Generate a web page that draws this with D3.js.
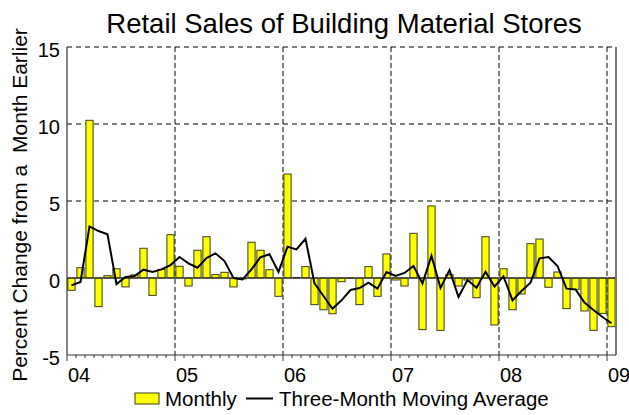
<!DOCTYPE html>
<html lang="en">
	<head>
		<meta charset="utf-8">
		<title>Retail Sales of Building Material Stores</title>
		<script type="text/javascript" src="https://cdn.jsdelivr.net/npm/d3@7"></script>
		<style type="text/css">
			body { margin: 0; background: #fff; }
			text { font-family: "Liberation Sans", Arial, sans-serif; fill: #000; }
		</style>
	</head>
	<body>
		<script type="text/javascript">

			//Data: monthly percent change, Jan 2004 to Jan 2009
			var startYear = 2004;
			var monthCount = 61;

			var monthly = [ -0.80, 0.67, 10.24, -1.86, 0.15, 0.60, -0.58, 0.20, 1.93, -1.13, 0.56, 2.81,
							0.76, -0.52, 1.80, 2.68, 0.22, 0.37, -0.58, -0.06, 2.32, 1.80, 0.54, -1.19,
							6.75, 0.03, 0.74, -1.73, -2.06, -2.32, -0.24, -0.02, -1.73, 0.74, -1.19, 1.56,
							-0.13, -0.52, 2.90, -3.35, 4.68, -3.40, 0.22, -0.52, -0.13, -1.28, 2.68, -3.05,
							0.60, -2.06, -1.04, 2.23, 2.53, -0.60, 0.39, -1.99, -0.74, -2.14, -3.40, -2.30,
							-3.16 ];

			var movingAverage = [ -0.48, -0.26, 3.35, 3.05, 2.84, -0.40, 0.06, 0.13, 0.54, 0.39, 0.56, 0.84,
							1.36, 0.95, 0.67, 1.30, 1.60, 1.10, 0.00, -0.09, 0.56, 1.35, 1.54, 0.39,
							2.03, 1.86, 2.55, -0.35, -1.17, -2.00, -1.45, -0.78, -0.65, -0.30, -0.69, 0.39,
							0.13, 0.33, 0.78, -0.35, 1.45, -0.65, 0.52, -1.23, -0.13, -0.63, 0.41, -0.56,
							0.10, -1.45, -0.84, -0.30, 1.28, 1.36, 0.78, -0.69, -0.74, -1.60, -2.08, -2.53,
							-2.94 ];

			var yearLabels = [ "04", "05", "06", "07", "08", "09" ];
			var yTicks = [ -5, 0, 5, 10, 15 ];

			//Months as categories
			var months = d3.range(monthCount).map(function(i) {
				return new Date(startYear, i, 1);
			});

			//Width, height and plot box
			var w = 629;
			var h = 415;
			var plotLeft = 67, plotRight = 616, plotTop = 47, plotBottom = 355;

			var xScale = d3.scaleBand()
							.domain(d3.range(monthCount))
							.range([plotLeft, plotRight])
							.paddingInner(0.2)
							.paddingOuter(0.1);

			var yScale = d3.scaleLinear()
							.domain([-5, 15])
							.range([plotBottom, plotTop]);

			//start of the 9px cell for month i
			var cellStart = function(i) {
				return xScale(i) - (xScale.step() - xScale.bandwidth()) / 2;
			};

			//Create SVG element
			var svg = d3.select("body")
						.append("svg")
						.attr("width", w)
						.attr("height", h);

			//Horizontal dashed gridlines
			svg.selectAll("line.hgrid")
			   .data(yTicks.filter(function(d) { return d > 0; }))
			   .enter()
			   .append("line")
			   .attr("class", "hgrid")
			   .attr("x1", plotLeft)
			   .attr("x2", plotRight)
			   .attr("y1", function(d) { return yScale(d); })
			   .attr("y2", function(d) { return yScale(d); })
			   .attr("stroke", "#000")
			   .attr("stroke-width", 1)
			   .attr("stroke-dasharray", "5,4");

			//Vertical dashed gridlines at each January
			var janIdx = d3.range(monthCount).filter(function(i) { return months[i].getMonth() === 0 && i > 0; });

			svg.selectAll("line.vgrid")
			   .data(janIdx)
			   .enter()
			   .append("line")
			   .attr("class", "vgrid")
			   .attr("x1", function(d) { return cellStart(d); })
			   .attr("x2", function(d) { return cellStart(d); })
			   .attr("y1", plotTop)
			   .attr("y2", plotBottom)
			   .attr("stroke", "#000")
			   .attr("stroke-width", 1)
			   .attr("stroke-dasharray", "5,3");

			//Create bars
			svg.selectAll("rect.bar")
			   .data(monthly)
			   .enter()
			   .append("rect")
			   .attr("class", "bar")
			   .attr("x", function(d, i) { return xScale(i); })
			   .attr("y", function(d) { return yScale(Math.max(0, d)); })
			   .attr("width", xScale.bandwidth())
			   .attr("height", function(d) { return Math.abs(yScale(d) - yScale(0)); })
			   .attr("fill", "#ffff00")
			   .attr("stroke", "#3a3a20")
			   .attr("stroke-width", 1);

			//Zero line
			svg.append("line")
			   .attr("x1", plotLeft)
			   .attr("x2", plotRight)
			   .attr("y1", yScale(0))
			   .attr("y2", yScale(0))
			   .attr("stroke", "#111")
			   .attr("stroke-width", 1.2);

			//Moving average line
			var line = d3.line()
						 .x(function(d, i) { return xScale(i) + xScale.bandwidth() / 2; })
						 .y(function(d) { return yScale(d); });

			svg.append("path")
			   .datum(movingAverage)
			   .attr("d", line)
			   .attr("fill", "none")
			   .attr("stroke", "#000")
			   .attr("stroke-width", 2)
			   .attr("stroke-linejoin", "miter");

			//Axes frame
			svg.append("line")
			   .attr("x1", plotRight).attr("x2", plotRight)
			   .attr("y1", plotTop).attr("y2", plotBottom)
			   .attr("stroke", "#777")
			   .attr("stroke-width", 2);

			svg.append("line")
			   .attr("x1", plotLeft).attr("x2", plotLeft)
			   .attr("y1", plotTop).attr("y2", plotBottom)
			   .attr("stroke", "#333")
			   .attr("stroke-width", 1.2);

			svg.append("line")
			   .attr("x1", plotLeft).attr("x2", plotRight)
			   .attr("y1", plotBottom).attr("y2", plotBottom)
			   .attr("stroke", "#333")
			   .attr("stroke-width", 1.2);

			//Month ticks (short) and year ticks (longer), below the axis
			svg.selectAll("line.mtick")
			   .data(d3.range(monthCount))
			   .enter()
			   .append("line")
			   .attr("class", "mtick")
			   .attr("x1", function(d) { return cellStart(d); })
			   .attr("x2", function(d) { return cellStart(d); })
			   .attr("y1", plotBottom)
			   .attr("y2", function(d) { return months[d].getMonth() === 0 ? plotBottom + 6 : plotBottom + 3; })
			   .attr("stroke", "#333")
			   .attr("stroke-width", 1);

			//Y tick labels
			svg.selectAll("text.ytick")
			   .data(yTicks)
			   .enter()
			   .append("text")
			   .attr("class", "ytick")
			   .text(function(d) { return d; })
			   .attr("text-anchor", "end")
			   .attr("x", plotLeft - 7)
			   .attr("y", function(d) { return yScale(d) + 9.5; })
			   .attr("font-size", "20px");

			//X tick labels
			svg.selectAll("text.xtick")
			   .data(yearLabels)
			   .enter()
			   .append("text")
			   .attr("class", "xtick")
			   .text(function(d) { return d; })
			   .attr("text-anchor", "start")
			   .attr("x", function(d, i) { return cellStart(i * 12) + 1; })
			   .attr("y", 382)
			   .attr("font-size", "20px");

			//Title
			svg.append("text")
			   .text("Retail Sales of Building Material Stores")
			   .attr("text-anchor", "middle")
			   .attr("x", 344)
			   .attr("y", 33)
			   .attr("font-size", "27.5px");

			//Y axis title
			svg.append("text")
			   .text("Percent Change from a\u00a0 Month Earlier")
			   .attr("text-anchor", "middle")
			   .attr("transform", "translate(26.5,205) rotate(-90)")
			   .attr("font-size", "21px");

			//Legend
			svg.append("rect")
			   .attr("x", 135)
			   .attr("y", 393)
			   .attr("width", 24)
			   .attr("height", 11)
			   .attr("fill", "#ffff00")
			   .attr("stroke", "#3a3a20")
			   .attr("stroke-width", 1);

			svg.append("text")
			   .text("Monthly")
			   .attr("x", 165)
			   .attr("y", 406)
			   .attr("font-size", "20.5px");

			svg.append("line")
			   .attr("x1", 246).attr("x2", 273)
			   .attr("y1", 398.5).attr("y2", 398.5)
			   .attr("stroke", "#000")
			   .attr("stroke-width", 2);

			svg.append("text")
			   .text("Three-Month Moving Average")
			   .attr("x", 279)
			   .attr("y", 406)
			   .attr("font-size", "20.5px");

		</script>
	</body>
</html>
